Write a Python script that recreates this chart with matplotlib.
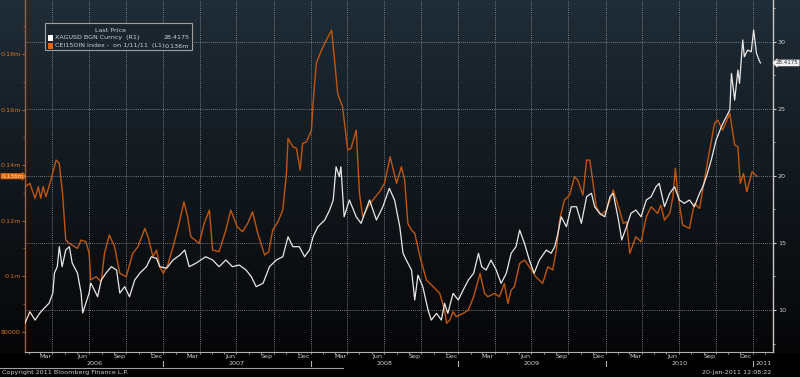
"""Bloomberg-style chart: silver spot (XAGUSD, right axis) vs CEI15OIN index (left axis)."""

import matplotlib
matplotlib.use("Agg")
import matplotlib.pyplot as plt
import numpy as np
import pandas as pd
from matplotlib import transforms
from matplotlib.lines import Line2D
from matplotlib.patches import Rectangle
from matplotlib.ticker import FixedLocator, MultipleLocator

W, H = 800, 377

# XAGUSD BGN Curncy (R1)
silver_dates = [
    "2006-01-23", "2006-02-04", "2006-02-17", "2006-03-01", "2006-03-12", "2006-03-24",
    "2006-04-02", "2006-04-06", "2006-04-13", "2006-04-18", "2006-04-25", "2006-05-04",
    "2006-05-13", "2006-05-20", "2006-06-02", "2006-06-11", "2006-06-15", "2006-06-23",
    "2006-07-01", "2006-07-05", "2006-07-14", "2006-07-22", "2006-07-31", "2006-08-12",
    "2006-08-25", "2006-09-07", "2006-09-15", "2006-09-27", "2006-10-09", "2006-10-22",
    "2006-11-04", "2006-11-20", "2006-12-02", "2006-12-15", "2006-12-23", "2007-01-09",
    "2007-01-25", "2007-02-11", "2007-02-23", "2007-03-06", "2007-03-22", "2007-04-16",
    "2007-05-03", "2007-05-19", "2007-06-05", "2007-06-21", "2007-07-08", "2007-07-25",
    "2007-08-07", "2007-08-19", "2007-09-05", "2007-09-21", "2007-10-08", "2007-10-24",
    "2007-11-06", "2007-11-18", "2007-12-04", "2007-12-17", "2007-12-29", "2008-01-07",
    "2008-01-19", "2008-02-05", "2008-02-17", "2008-02-26", "2008-03-04", "2008-03-12",
    "2008-03-16", "2008-03-24", "2008-04-06", "2008-04-23", "2008-05-05", "2008-05-26",
    "2008-06-12", "2008-06-28", "2008-07-14", "2008-07-27", "2008-08-09", "2008-08-17",
    "2008-08-25", "2008-09-07", "2008-09-15", "2008-09-23", "2008-10-05", "2008-10-18",
    "2008-10-26", "2008-11-08", "2008-11-20", "2008-11-28", "2008-12-06", "2008-12-19",
    "2009-01-01", "2009-01-13", "2009-01-26", "2009-02-08", "2009-02-20", "2009-02-28",
    "2009-03-11", "2009-03-23", "2009-04-05", "2009-04-17", "2009-04-30", "2009-05-12",
    "2009-05-24", "2009-06-02", "2009-06-14", "2009-06-26", "2009-07-08", "2009-07-21",
    "2009-08-07", "2009-08-19", "2009-08-28", "2009-09-05", "2009-09-13", "2009-09-26",
    "2009-10-08", "2009-10-21", "2009-11-02", "2009-11-15", "2009-11-27", "2009-12-05",
    "2009-12-17", "2009-12-30", "2010-01-12", "2010-01-20", "2010-02-02", "2010-02-10",
    "2010-02-22", "2010-03-05", "2010-03-17", "2010-03-30", "2010-04-12", "2010-04-24",
    "2010-05-06", "2010-05-14", "2010-05-27", "2010-06-09", "2010-06-21", "2010-07-03",
    "2010-07-15", "2010-07-28", "2010-08-09", "2010-08-22", "2010-08-30", "2010-09-08",
    "2010-09-20", "2010-10-02", "2010-10-15", "2010-10-23", "2010-11-05", "2010-11-09",
    "2010-11-17", "2010-11-25", "2010-11-29", "2010-12-07", "2010-12-11", "2010-12-19",
    "2010-12-28", "2011-01-03", "2011-01-10", "2011-01-18", "2011-01-20",
]
silver_values = [
    9.01, 9.87, 9.25, 9.78, 10.15, 10.52,
    11.27, 12.76, 13.23, 14.72, 13.23, 14.47,
    14.72, 13.50, 12.76, 11.27, 9.78, 10.52,
    11.27, 12.01, 11.49, 10.99, 12.24, 12.76,
    13.23, 12.98, 11.27, 11.74, 10.99, 12.24,
    12.76, 13.23, 13.97, 13.85, 13.23, 13.11,
    13.73, 14.10, 14.47, 13.23, 13.48, 13.97,
    13.73, 13.23, 13.73, 13.23, 13.35, 12.98,
    12.48, 11.74, 11.99, 13.23, 13.73, 13.97,
    15.46, 14.72, 14.72, 13.97, 14.47, 15.46,
    16.21, 16.71, 17.45, 18.20, 20.68, 19.94,
    20.68, 16.95, 18.20, 16.95, 16.46, 18.20,
    16.71, 17.70, 19.07, 18.20, 16.21, 14.23,
    13.73, 12.98, 10.75, 12.60, 11.74, 10.00,
    9.25, 9.75, 9.25, 10.50, 9.75, 11.24,
    10.75, 11.49, 12.24, 12.74, 14.23, 13.23,
    12.98, 13.73, 12.98, 11.99, 12.74, 14.23,
    14.72, 15.96, 14.97, 13.73, 12.74, 13.73,
    14.47, 14.23, 14.72, 15.72, 16.95, 16.21,
    17.70, 17.70, 16.46, 18.45, 18.70, 17.70,
    17.21, 16.95, 18.45, 18.70, 16.71, 15.22,
    16.21, 17.21, 17.45, 16.95, 18.20, 18.45,
    19.19, 19.44, 17.70, 18.70, 19.19, 18.20,
    17.95, 18.20, 17.70, 18.70, 19.19, 19.94,
    21.18, 22.67, 23.66, 24.16, 24.91, 27.64,
    25.65, 27.89, 26.90, 30.13, 28.88, 29.38,
    29.25, 30.87, 29.14, 28.51, 28.4175,
]

# CEI15OIN Index (L1)
index_dates = [
    "2006-01-23", "2006-02-04", "2006-02-17", "2006-02-25", "2006-03-03", "2006-03-09",
    "2006-03-16", "2006-03-28", "2006-04-10", "2006-04-18", "2006-04-26", "2006-05-04",
    "2006-05-13", "2006-06-02", "2006-06-11", "2006-06-23", "2006-07-01", "2006-07-05",
    "2006-07-18", "2006-07-31", "2006-08-08", "2006-08-20", "2006-09-02", "2006-09-15",
    "2006-10-01", "2006-10-17", "2006-10-30", "2006-11-16", "2006-11-24", "2006-12-06",
    "2006-12-15", "2006-12-23", "2007-01-01", "2007-01-13", "2007-01-25", "2007-02-07",
    "2007-02-21", "2007-03-02", "2007-03-10", "2007-03-31", "2007-04-12", "2007-04-25",
    "2007-05-03", "2007-05-19", "2007-06-05", "2007-06-17", "2007-07-03", "2007-07-16",
    "2007-07-29", "2007-08-10", "2007-08-23", "2007-09-09", "2007-09-19", "2007-09-29",
    "2007-10-12", "2007-10-24", "2007-11-02", "2007-11-06", "2007-11-18", "2007-11-27",
    "2007-12-06", "2007-12-12", "2007-12-22", "2008-01-03", "2008-01-07", "2008-01-15",
    "2008-01-28", "2008-02-05", "2008-02-22", "2008-03-01", "2008-03-08", "2008-03-20",
    "2008-04-02", "2008-04-10", "2008-04-23", "2008-05-01", "2008-05-09", "2008-05-22",
    "2008-06-03", "2008-06-20", "2008-07-02", "2008-07-16", "2008-08-01", "2008-08-13",
    "2008-08-21", "2008-08-29", "2008-09-07", "2008-09-15", "2008-09-28", "2008-10-14",
    "2008-10-31", "2008-11-16", "2008-11-28", "2008-12-03", "2008-12-11", "2008-12-19",
    "2008-12-27", "2009-01-13", "2009-01-26", "2009-02-08", "2009-02-24", "2009-03-07",
    "2009-03-15", "2009-04-01", "2009-04-13", "2009-04-25", "2009-05-04", "2009-05-12",
    "2009-05-20", "2009-06-02", "2009-06-14", "2009-06-26", "2009-07-12", "2009-07-29",
    "2009-08-11", "2009-08-23", "2009-09-01", "2009-09-09", "2009-09-21", "2009-10-04",
    "2009-10-16", "2009-10-24", "2009-11-06", "2009-11-15", "2009-11-23", "2009-12-01",
    "2009-12-09", "2009-12-21", "2010-01-03", "2010-01-20", "2010-02-02", "2010-02-14",
    "2010-02-22", "2010-03-02", "2010-03-17", "2010-03-30", "2010-04-12", "2010-04-24",
    "2010-05-10", "2010-05-18", "2010-05-27", "2010-06-09", "2010-06-17", "2010-06-23",
    "2010-06-29", "2010-07-11", "2010-07-28", "2010-08-09", "2010-08-22", "2010-09-03",
    "2010-09-16", "2010-09-28", "2010-10-06", "2010-10-18", "2010-11-05", "2010-11-17",
    "2010-11-25", "2010-12-01", "2010-12-09", "2010-12-17", "2010-12-30", "2011-01-11",
]
index_values = [
    132200, 133400, 128000, 132200, 128000, 132200,
    128600, 134600, 141800, 140600, 129800, 113000,
    111800, 110000, 113000, 112400, 108200, 98600,
    99800, 98000, 108200, 114800, 110600, 101000,
    99800, 108200, 110600, 117200, 114200, 107000,
    109400, 103400, 101000, 104600, 110600, 117800,
    126800, 121400, 114200, 111800, 119000, 123800,
    109400, 108800, 116600, 123800, 117800, 116000,
    119000, 123200, 115400, 107600, 108800, 116600,
    119600, 123800, 137000, 149600, 146600, 146000,
    138200, 147800, 148400, 152600, 162200, 176700,
    181400, 183900, 188600, 176700, 165800, 161000,
    145400, 146000, 152600, 129800, 121400, 125000,
    127400, 130400, 133400, 143000, 133400, 139400,
    134600, 119000, 116600, 115400, 107000, 98600,
    96200, 93800, 87800, 83000, 84200, 87200,
    85400, 86600, 87800, 92600, 101000, 93800,
    92600, 93800, 92600, 97400, 90200, 95000,
    96200, 104600, 105800, 103400, 99800, 97400,
    103400, 102200, 109400, 120200, 127400, 129200,
    135800, 134600, 129200, 141800, 141800, 133400,
    125000, 122000, 123800, 131000, 125000, 119000,
    119600, 108200, 114200, 112400, 121400, 125000,
    122600, 125600, 120200, 122600, 128600, 138800,
    129800, 118400, 117200, 126200, 124400, 134600,
    145400, 155000, 156200, 152600, 158600, 147200,
    146600, 133400, 137000, 130400, 137600, 136000,
]

left_ticks = [80000, 100000, 120000, 140000, 160000, 180000]
left_labels = ["80000", "0.1m", "0.12m", "0.14m", "0.16m", "0.18m"]
right_ticks = [10, 15, 20, 25, 30]
month_names = {3: "Mar", 6: "Jun", 9: "Sep", 12: "Dec"}
years = [2006, 2007, 2008, 2009, 2010, 2011]

ORANGE = "#c0560e"
ORANGE_TXT = "#d8731f"
SILVER = "#e8e8e8"
GREY_TXT = "#d0d0d0"
GRID = "#9098a0"
FS = 4.6

plt.rcParams["font.family"] = ["DejaVu Sans"]

fig = plt.figure(figsize=(W / 100, H / 100), dpi=100)
fig.patch.set_facecolor("black")

# dark blue-grey to black background gradient behind the plot
bg = fig.add_axes((0, 0, 1, 1), zorder=-10)
bg.axis("off")
rows = np.arange(H)
t = np.clip(rows / 352.0, 0, 1) ** 0.9
top = np.array([32, 46, 57]) / 255
bot = np.array([6, 6, 7]) / 255
col = top * (1 - t)[:, None] + bot * t[:, None]
col[rows > 352] = 0
bg.imshow(np.repeat(col[:, None, :], 2, axis=1), aspect="auto", extent=(0, 1, 0, 1))

ax = fig.add_axes((25 / W, 1 - 352 / H, (773 - 25) / W, 352 / H))
ax.patch.set_alpha(0)
ax2 = ax.twinx()
ax2.patch.set_alpha(0)

d_silver = pd.to_datetime(silver_dates)
d_index = pd.to_datetime(index_dates)

x_left = pd.Timestamp("2006-01-23")
x_right = pd.Timestamp("2011-02-20")
ax.set_xlim(x_left, x_right)

ax.plot(d_index, index_values, color=ORANGE, lw=1.0, zorder=3)
ax2.plot(d_silver, silver_values, color=SILVER, lw=0.9, zorder=3)

ax.set_ylim(72690, 199445)
ax2.set_ylim(6.87, 33.11)

# spines
for s in ("top", "right"):
    ax.spines[s].set_visible(False)
for s in ("top", "left", "bottom"):
    ax2.spines[s].set_visible(False)
ax.spines["left"].set_color(ORANGE)
ax.spines["left"].set_linewidth(1.0)
ax.spines["bottom"].set_color("#b0b0b0")
ax.spines["bottom"].set_linewidth(0.8)
ax2.spines["right"].set_color("#c8c8c8")
ax2.spines["right"].set_linewidth(1.0)

# left axis
ax.yaxis.set_major_locator(FixedLocator(left_ticks))
ax.set_yticklabels(left_labels)
ax.yaxis.set_minor_locator(MultipleLocator(10000))
ax.tick_params(axis="y", which="major", colors=ORANGE, labelcolor=ORANGE_TXT,
               length=2.5, width=0.8, labelsize=FS, pad=0.5)
ax.tick_params(axis="y", which="minor", colors=ORANGE, length=1.5, width=0.6)

# right axis
ax2.yaxis.set_major_locator(FixedLocator(right_ticks))
ax2.yaxis.set_minor_locator(MultipleLocator(2.5))
ax2.tick_params(axis="y", which="major", colors="#c8c8c8", labelcolor=GREY_TXT,
                length=2.5, width=0.8, labelsize=FS, pad=1)
ax2.tick_params(axis="y", which="minor", colors="#c8c8c8", length=1.5, width=0.6)
ax2.grid(axis="y", which="major", ls=(0, (1, 1.5)), color=GRID, lw=0.6)

# bottom axis: a tick per month, labels drawn by hand at mid-month
month_starts = pd.date_range("2006-02-01", "2011-02-01", freq="MS")
ax.set_xticks(month_starts)
ax.set_xticklabels([])
ax.tick_params(axis="x", which="major", colors="#b0b0b0", length=1.5, width=0.6)

quarters = pd.date_range("2006-04-01", "2011-01-01", freq="QS-JAN")
for q in quarters:
    ax.axvline(q, ls=(0, (1, 1.5)), color=GRID, lw=0.6, zorder=1)

xfig = transforms.blended_transform_factory(ax.transData, fig.transFigure)
for yr in years[:-1]:
    for m, name in month_names.items():
        ax.text(pd.Timestamp(yr, m, 15), 1 - 356.5 / H, name, transform=xfig,
                ha="center", va="center", fontsize=FS, color=GREY_TXT)

year_lo = 1 - 366 / H
year_hi = 1 - 361 / H
for yr in years:
    if yr == 2006:
        lo, hi = x_left, pd.Timestamp(2007, 1, 1)
    else:
        lo = pd.Timestamp(yr, 1, 1)
        hi = pd.Timestamp(yr + 1, 1, 1)
        ax.plot([lo, lo], [year_lo, year_hi], transform=xfig, color="#b0b0b0",
                lw=0.8, clip_on=False)
    if yr == 2011:
        ax.text(lo + pd.Timedelta(days=6), 1 - 363.8 / H, str(yr), transform=xfig,
                ha="left", va="center", fontsize=FS, color=GREY_TXT)
    else:
        ax.text(lo + (hi - lo) / 2, 1 - 363.8 / H, str(yr), transform=xfig,
                ha="center", va="center", fontsize=FS, color=GREY_TXT)

fig.add_artist(Line2D([0, 343 / W], [1 - 367.5 / H] * 2, color="#a0a0a0", lw=0.8))
fig.text(2 / W, 1 - 372.8 / H, "Copyright 2011 Bloomberg Finance L.P.",
         ha="left", va="center", fontsize=FS, color=GREY_TXT)
fig.text(771 / W, 1 - 372.8 / H, "20-Jan-2011 12:08:22",
         ha="right", va="center", fontsize=FS, color=GREY_TXT)

# last-price flags on both axes
ax2.text(1.004, silver_values[-1], f"{silver_values[-1]:.4f}",
         transform=transforms.blended_transform_factory(ax2.transAxes, ax2.transData),
         ha="left", va="center", fontsize=4, color="#303030",
         bbox=dict(boxstyle="larrow,pad=0.15", fc="#f0f0f0", ec="none"))
ax.text(-0.002, index_values[-1], "0.136m",
        transform=transforms.blended_transform_factory(ax.transAxes, ax.transData),
        ha="right", va="center", fontsize=4.2, color="#ffe2b0",
        bbox=dict(boxstyle="rarrow,pad=0.1", fc="#d9650f", ec="none"))

# legend box
lx0, lx1, ly0, ly1 = 45, 192, 23, 50
fig.add_artist(Rectangle((lx0 / W, 1 - ly1 / H), (lx1 - lx0) / W, (ly1 - ly0) / H,
                         transform=fig.transFigure, fc="#1a252e", ec="#a0a0a0", lw=0.8))
fig.text(111 / W, 1 - 30.7 / H, "Last Price", ha="center", va="center",
         fontsize=FS, color=GREY_TXT)
rows_legend = [
    (37.7, "white", "XAGUSD BGN Curncy  (R1)", "28.4175"),
    (46.0, "#e8640c", "CEI15OIN Index -  on 1/11/11  (L1)", "0.136m"),
]
for ypx, swatch, label, val in rows_legend:
    fig.add_artist(Rectangle((47.5 / W, 1 - (ypx + 3) / H), 6 / W, 6 / H,
                             transform=fig.transFigure, fc=swatch, ec="none"))
    fig.text(55 / W, 1 - ypx / H, label, ha="left", va="center",
             fontsize=FS, color=GREY_TXT)
    fig.text(189.5 / W, 1 - ypx / H, val, ha="right", va="center",
             fontsize=FS, color=GREY_TXT)

fig.savefig("out.png", dpi=100, facecolor=fig.get_facecolor())
